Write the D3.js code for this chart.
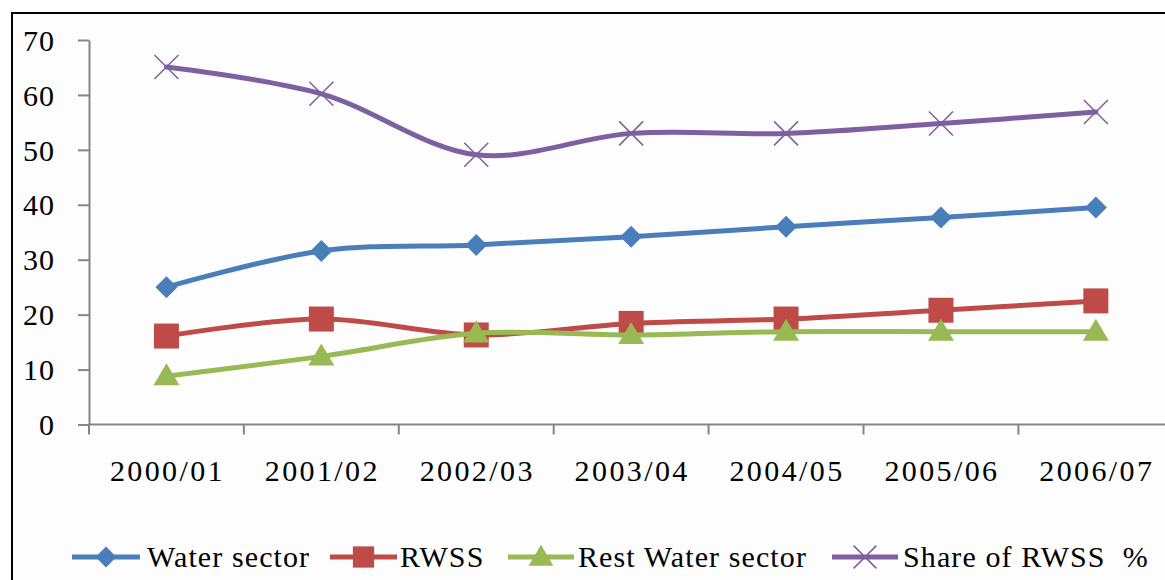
<!DOCTYPE html>
<html>
<head>
<meta charset="utf-8">
<script src="https://cdn.jsdelivr.net/npm/d3@7"></script>
<style>
  html, body { margin: 0; padding: 0; background: #ffffff; }
  svg { display: block; }
</style>
</head>
<body>
<svg id="chart" width="1165" height="580"></svg>
<script>
// Fiscal years on the category axis
const years = ["2000/01", "2001/02", "2002/03", "2003/04", "2004/05", "2005/06", "2006/07"];

// Series values
const waterSector = [25.0, 31.6, 32.7, 34.2, 36.0, 37.7, 39.5];
const rwss        = [16.1, 19.2, 16.3, 18.4, 19.2, 20.8, 22.5];
const restWater   = [8.8, 12.4, 16.6, 16.3, 16.9, 16.9, 16.9];
const shareRwss   = [65.1, 60.2, 49.1, 53.0, 53.0, 54.8, 56.9];

// Y axis tick labels
const yTicks = [0, 10, 20, 30, 40, 50, 60, 70];

const seriesNames = ["Water sector", "RWSS", "Rest Water sector", "Share of RWSS  %"];
const seriesColors = ["#4a7ebb", "#be4b48", "#98b954", "#7d60a0"];
const seriesMarkers = ["diamond", "square", "triangle", "cross"];
const seriesValues = [waterSector, rwss, restWater, shareRwss];

const series = seriesNames.map((name, i) => ({
  name, color: seriesColors[i], marker: seriesMarkers[i], values: seriesValues[i]
}));

const svg = d3.select("#chart");
const W = 1165, H = 580;
const font = "'Liberation Serif', 'Times New Roman', serif";

// Chart area frame (only top and left edges fall inside the canvas)
svg.append("rect").attr("x", 12).attr("y", 13).attr("width", W).attr("height", H)
  .attr("fill", "#fdfdfd").attr("stroke", "#000").attr("stroke-width", 2);

const plot = { left: 89, top: 40, bottom: 424.5 };
const bandW = 154.9;

const x = d3.scaleBand().domain(years)
  .range([plot.left, plot.left + bandW * years.length]).padding(0);
const y = d3.scaleLinear().domain([0, 70]).range([plot.bottom, plot.top]);

// Y axis
const yAxis = svg.append("g").attr("transform", `translate(${plot.left},0)`)
  .call(d3.axisLeft(y).tickValues(yTicks).tickSize(11).tickPadding(23).tickSizeOuter(0));
yAxis.select(".domain").attr("stroke", "#868686").attr("stroke-width", 2);
yAxis.selectAll(".tick line").attr("stroke", "#868686").attr("stroke-width", 2);
yAxis.selectAll(".tick text").attr("font-family", font).attr("font-size", 30)
  .attr("fill", "#000").attr("dy", "0.34em").attr("letter-spacing", 1);

// X axis with ticks at category boundaries
const xAxisG = svg.append("g").attr("transform", `translate(0,${plot.bottom})`);
xAxisG.append("line").attr("x1", plot.left).attr("x2", W)
  .attr("stroke", "#868686").attr("stroke-width", 2);
xAxisG.selectAll("line.tk").data(years)
  .join("line").attr("class", "tk")
  .attr("x1", d => x(d) + x.bandwidth())
  .attr("x2", d => x(d) + x.bandwidth())
  .attr("y1", 0).attr("y2", 10)
  .attr("stroke", "#868686").attr("stroke-width", 2);
xAxisG.append("line").attr("x1", plot.left).attr("x2", plot.left)
  .attr("y1", 0).attr("y2", 10).attr("stroke", "#868686").attr("stroke-width", 2);
xAxisG.selectAll("text.lbl").data(years).join("text").attr("class", "lbl")
  .attr("x", d => x(d) + x.bandwidth() / 2 + 1).attr("y", 56)
  .attr("text-anchor", "middle").attr("font-family", font).attr("font-size", 30)
  .attr("letter-spacing", 2.4)
  .attr("fill", "#000").text(d => d);

// Marker symbol drawing
function drawMarker(g, type, color, cx, cy, scale = 1) {
  if (type === "diamond") {
    const r = 11 * scale;
    g.append("path").attr("d", `M${cx},${cy - r}L${cx + r},${cy}L${cx},${cy + r}L${cx - r},${cy}Z`)
      .attr("fill", color);
  } else if (type === "square") {
    const s = 12.5 * scale;
    g.append("rect").attr("x", cx - s).attr("y", cy - s).attr("width", 2 * s).attr("height", 2 * s)
      .attr("fill", color);
  } else if (type === "triangle") {
    const r = 13 * scale;
    g.append("path").attr("d", `M${cx},${cy - r}L${cx + r},${cy + r * 0.7}L${cx - r},${cy + r * 0.7}Z`)
      .attr("fill", color);
  } else if (type === "cross") {
    const r = 12 * scale;
    g.append("path").attr("d", `M${cx - r},${cy - r}L${cx + r},${cy + r}M${cx - r},${cy + r}L${cx + r},${cy - r}`)
      .attr("stroke", color).attr("stroke-width", 1.5).attr("fill", "none");
  }
}

const line = d3.line()
  .x((d, i) => x(years[i]) + x.bandwidth() / 2)
  .y(d => y(d))
  .curve(d3.curveCatmullRom.alpha(0.5));

series.forEach(s => {
  const g = svg.append("g");
  g.append("path").datum(s.values).attr("d", line)
    .attr("fill", "none").attr("stroke", s.color).attr("stroke-width", 5)
    .attr("stroke-linejoin", "round").attr("stroke-linecap", "round");
  s.values.forEach((v, i) => {
    drawMarker(g, s.marker, s.color, x(years[i]) + x.bandwidth() / 2, y(v), 1);
  });
});

// Legend
const legendItems = [
  { x0: 72, x1: 140, tx: 147 },
  { x0: 330, x1: 397, tx: 400 },
  { x0: 508, x1: 574, tx: 578 },
  { x0: 832, x1: 898, tx: 903 }
];
const ly = 557;
series.forEach((s, i) => {
  const it = legendItems[i];
  const g = svg.append("g");
  g.append("line").attr("x1", it.x0).attr("x2", it.x1).attr("y1", ly).attr("y2", ly)
    .attr("stroke", s.color).attr("stroke-width", 5);
  drawMarker(g, s.marker, s.color, (it.x0 + it.x1) / 2, ly, s.marker === "square" ? 0.85 : 0.95);
  g.append("text").attr("x", it.tx).attr("y", ly).attr("dy", "0.34em")
    .attr("font-family", font).attr("font-size", 30).attr("letter-spacing", 1.1)
    .attr("fill", "#000").text(s.name)
    .attr("xml:space", "preserve").style("white-space", "pre");
});
</script>
</body>
</html>
